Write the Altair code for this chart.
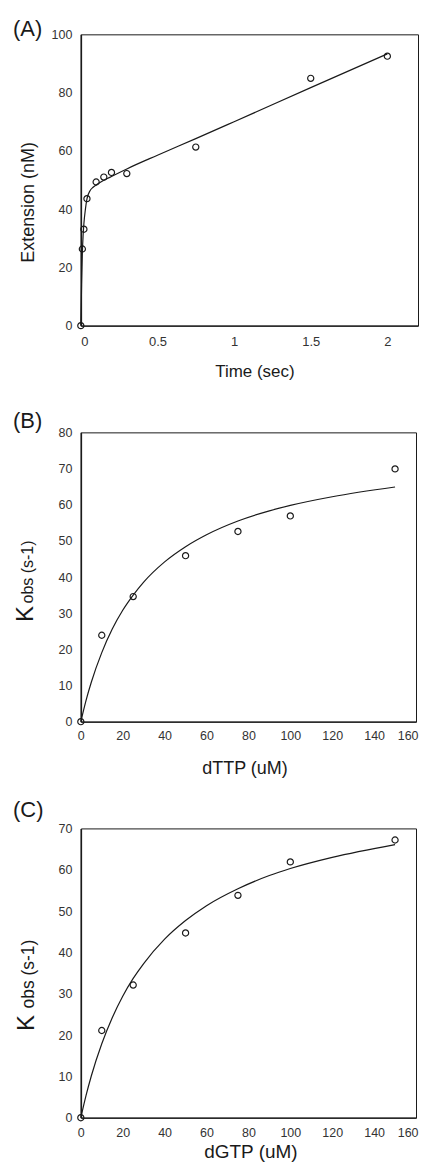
import altair as alt
import pandas as pd

FONT = "Liberation Sans"
INK = "#1a1a1a"
LABEL = "#333333"

# ---------------- Panel A : burst kinetics ----------------
a_time = [0, 0.01, 0.02, 0.04, 0.1, 0.15, 0.2, 0.3, 0.75, 1.5, 2.0]
a_ext = [0, 26.3, 33.1, 43.6, 49.3, 51.0, 52.6, 52.2, 61.3, 84.9, 92.5]
a_fit_t = [0, 0.005, 0.01, 0.015, 0.02, 0.03, 0.04, 0.06, 0.08, 0.1, 0.2, 0.3,
           0.5, 0.75, 1.0, 1.5, 2.0]
a_fit_y = [0, 14, 25, 31, 35, 40, 43.5, 46.3, 47.5, 48.3, 51.2, 53.8,
           58.5, 64.2, 70.0, 81.7, 93.3]
a_xticks = [0, 0.5, 1, 1.5, 2]
a_yticks = [0, 20, 40, 60, 80, 100]

# ---------------- Panel B : dTTP ----------------
b_conc = [0, 10, 25, 50, 75, 100, 150]
b_kobs = [0, 23.9, 34.6, 45.9, 52.6, 56.9, 69.9]
b_fit_x = [0, 2.5, 5, 10, 15, 20, 25, 30, 40, 50, 60, 75, 90, 100, 120, 150]
b_fit_y = [0, 5.9, 10.9, 19.1, 25.6, 30.8, 35.0, 38.6, 44.2, 48.4, 51.7, 55.5,
           58.3, 59.8, 62.2, 64.9]
b_yticks = [0, 10, 20, 30, 40, 50, 60, 70, 80]

# ---------------- Panel C : dGTP ----------------
c_conc = [0, 10, 25, 50, 75, 100, 150]
c_kobs = [0, 21.1, 32.1, 44.7, 53.8, 61.9, 67.2]
c_fit_x = [0, 2.5, 5, 10, 15, 20, 25, 30, 40, 50, 60, 75, 90, 100, 120, 150]
c_fit_y = [0, 5.4, 10.1, 17.9, 24.2, 29.4, 33.7, 37.3, 43.2, 47.7, 51.3, 55.4,
           58.6, 60.3, 63.0, 66.1]
c_yticks = [0, 10, 20, 30, 40, 50, 60, 70]

conc_xticks = [0, 20, 40, 60, 80, 100, 120, 140, 160]

LABEL_EXPR = "'' + datum.value"


def panel(px, py, fx, fy, xdom, ydom, xticks, yticks, w, h,
          xtitle, xtitle_size, xtitle_pos, x_lab_size, x_lab_pad,
          ytitle, ytitle_size, ytitle_pos, ytitle_align,
          tag, tag_y, k_pos=None, k_size=24, flush_last=False, anchor=False):
    pts = pd.DataFrame({"x": px, "y": py})
    fit = pd.DataFrame({"x": fx, "y": fy})

    xaxis_kw = dict(
        values=xticks, labelExpr=LABEL_EXPR, labelOverlap=False,
        grid=False, ticks=False, tickSize=0,
        domainColor=INK, domainWidth=1.2,
        labelFont=FONT, labelFontSize=x_lab_size, labelColor=LABEL,
        labelPadding=x_lab_pad,
        title=xtitle, titleFont=FONT, titleFontSize=xtitle_size,
        titleFontWeight="normal", titleColor=INK,
        titleX=xtitle_pos[0], titleY=xtitle_pos[1],
        titleBaseline="middle", titleAlign="center",
    )
    if flush_last:
        xaxis_kw["labelAlign"] = alt.condition(
            f"datum.value == {xticks[-1]}", alt.value("right"), alt.value("center"))
        xaxis_kw["labelOffset"] = alt.condition(
            f"datum.value == {xticks[-1]}", alt.value(2), alt.value(0))
    xaxis = alt.Axis(**xaxis_kw)
    yaxis = alt.Axis(
        values=yticks, labelExpr=LABEL_EXPR, labelOverlap=False,
        grid=False, ticks=False, tickSize=0,
        domainColor=INK, domainWidth=1.6,
        labelFont=FONT, labelFontSize=12.5, labelColor=LABEL, labelPadding=9,
        title=ytitle, titleFont=FONT, titleFontSize=ytitle_size,
        titleFontWeight="normal", titleColor=INK, titleAngle=270,
        titleX=ytitle_pos[0], titleY=ytitle_pos[1],
        titleBaseline="alphabetic", titleAlign=ytitle_align,
    )
    xs = alt.X("x:Q", scale=alt.Scale(domain=xdom, nice=False, zero=False), axis=xaxis)
    ys = alt.Y("y:Q", scale=alt.Scale(domain=ydom, nice=False, zero=False), axis=yaxis)

    line = alt.Chart(fit).mark_line(color=INK, strokeWidth=1.2,
                                    interpolate="monotone").encode(x=xs, y=ys)
    dots = alt.Chart(pts).mark_point(shape="circle", filled=False, size=38,
                                     strokeWidth=1.2, color=INK,
                                     opacity=1).encode(x=xs, y=ys)
    tag_txt = alt.Chart(pd.DataFrame({"t": [tag]})).mark_text(
        align="left", baseline="middle", fontSize=22, font=FONT, color=INK
    ).encode(x=alt.value(-68), y=alt.value(tag_y), text="t:N")
    layers = [line, dots, tag_txt]
    if k_pos is not None:
        k_txt = alt.Chart(pd.DataFrame({"t": ["K"]})).mark_text(
            align="left", baseline="alphabetic", angle=270,
            fontSize=k_size, font=FONT, color=INK
        ).encode(x=alt.value(k_pos[0]), y=alt.value(k_pos[1]), text="t:N")
        layers.append(k_txt)
    if anchor:
        # invisible marker fixing the chart's top-left extent
        corner = alt.Chart(pd.DataFrame({"t": [""]})).mark_point(
            size=1, opacity=0
        ).encode(x=alt.value(-71.5), y=alt.value(-24))
        layers.append(corner)
    return alt.layer(*layers).properties(width=w, height=h)


pA = panel(a_time, a_ext, a_fit_t, a_fit_y, [0, 2.2], [0, 100], a_xticks, a_yticks,
           338, 292, "Time (sec)", 17, (174, 46), 13, 10,
           "Extension (nM)", 18, (-47, 168), "center", "(A)", -5.5, anchor=True)
pB = panel(b_conc, b_kobs, b_fit_x, b_fit_y, [0, 160], [0, 80], conc_xticks, b_yticks,
           336, 290, "dTTP (uM)", 18, (164, 47), 12.5, 7.5,
           "obs (s-1)", 16, (-48, 171), "left", "(B)", -11,
           k_pos=(-48, 190), k_size=24, flush_last=True)
pC = panel(c_conc, c_kobs, c_fit_x, c_fit_y, [0, 160], [0, 70], conc_xticks, c_yticks,
           336, 290, "dGTP (uM)", 19, (170, 34), 12.5, 8.5,
           "obs (s-1)", 17.5, (-47, 180), "left", "(C)", -18,
           k_pos=(-47, 203), k_size=24, flush_last=True)

chart = alt.vconcat(pA, pB, pC, spacing=107, bounds="flush").properties(
    padding={"left": 0, "top": 0, "right": 0, "bottom": 0},
    background="white",
).configure_view(stroke=INK, strokeWidth=1)

chart.save("out.html", embed_options={"renderer": "svg", "actions": False})
